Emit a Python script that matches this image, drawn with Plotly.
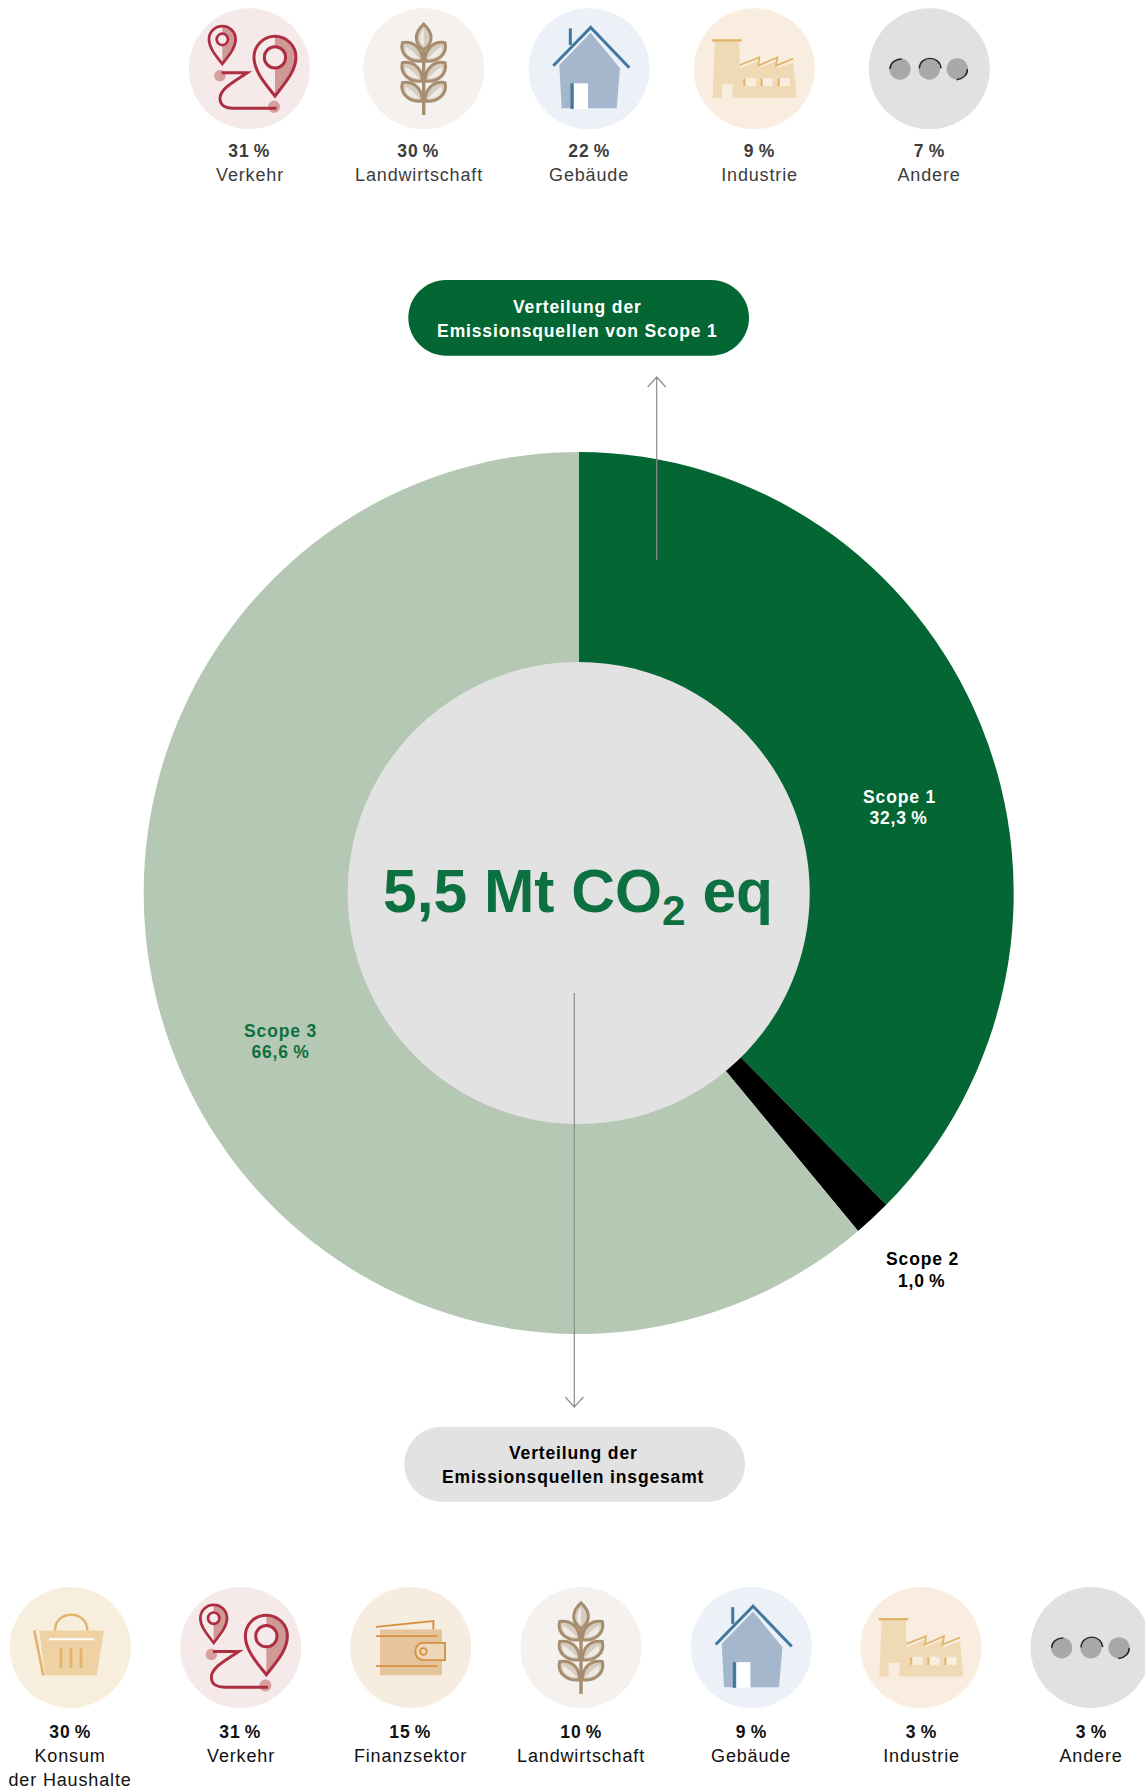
import re
import plotly.graph_objects as go

# ---------- data ----------
slice_names = ["Scope 1", "Scope 2", "Scope 3"]
# slice sizes as drawn in the picture (they differ from the printed labels)
slice_drawn_shares = [37.5, 1.4, 61.1]
slice_printed_labels = ["32,3\u2009%", "1,0\u2009%", "66,6\u2009%"]
slice_colors = ["#036633", "#000000", "#b5c8b4"]

top_labels = ["Verkehr", "Landwirtschaft", "Gebäude", "Industrie", "Andere"]
top_values = [31, 30, 22, 9, 7]
top_icons = ["route", "wheat", "house", "factory", "other"]

bottom_labels = ["Konsum<br>der Haushalte", "Verkehr", "Finanzsektor", "Landwirtschaft", "Gebäude", "Industrie", "Andere"]
bottom_values = [30, 31, 15, 10, 9, 3, 3]
bottom_icons = ["basket", "route", "wallet", "wheat", "house", "factory", "other"]

center_text = "5,5 Mt CO<sub>2</sub> eq"
pill_top_lines = ["Verteilung der", "Emissionsquellen von Scope 1"]
pill_bottom_lines = ["Verteilung der", "Emissionsquellen insgesamt"]

# ---------- layout constants ----------
W, H = 1145, 1789
FONT = "Liberation Sans, Arial, sans-serif"
GREEN, GREEN_TXT = "#036633", "#0d7040"
top_x = [249.3, 423.7, 589, 754.3, 929.3]
top_text_x = [249.5, 418.5, 589, 759, 929]
bottom_x = [70.3, 240.7, 410.7, 581, 751.4, 921, 1091]
ICON_R = 60.5
cx, cy, RX, RY, R_IN = 578.7, 893, 435, 441, 231

shapes, annos = [], []


def text(x, y, s, size=17.5, color="#111", bold=False):
    annos.append(dict(x=x, y=y, xref="x", yref="y", text=f"<b>{s}</b>" if bold else s,
                      showarrow=False, xanchor="center", yanchor="middle",
                      font=dict(family=FONT, size=size, color=color), align="center"))


def circ(x, y, r):
    k = 0.5523 * r
    return (f"M{x-r},{y} C{x-r},{y-k} {x-k},{y-r} {x},{y-r} C{x+k},{y-r} {x+r},{y-k} {x+r},{y} "
            f"C{x+r},{y+k} {x+k},{y+r} {x},{y+r} C{x-k},{y+r} {x-r},{y+k} {x-r},{y} Z")


def rect(x0, y0, x1, y1):
    return f"M{x0},{y0} L{x1},{y0} L{x1},{y1} L{x0},{y1} Z"


def move(d, ox, oy, px, py):
    i = [0]

    def rep(m):
        v = float(m.group())
        res = px + (v - ox) / 3 if i[0] % 2 == 0 else py + (v - oy) / 3
        i[0] += 1
        return f"{res:.2f}"
    return re.sub(r"-?\d+\.?\d*", rep, d)


def pin(x, y, r, tip, ring, lw):
    q = r / 63
    out = (f"M{x},{y+tip} C{x-25*q},{y+83*q} {x-r},{y+43*q} {x-r},{y} C{x-r},{y-35*q} {x-35*q},{y-r} {x},{y-r} "
           f"C{x+35*q},{y-r} {x+r},{y-35*q} {x+r},{y} C{x+r},{y+43*q} {x+25*q},{y+83*q} {x},{y+tip} Z")
    half = (f"M{x},{y+tip} C{x+25*q},{y+83*q} {x+r},{y+43*q} {x+r},{y} C{x+r},{y-35*q} {x+35*q},{y-r} {x},{y-r} Z")
    return [(half, "#cf9a96", None, 0), (out, None, "#ad2e40", lw), (circ(x, y, ring), "#f6e9e9", "#ad2e40", lw)]


def wheat_parts():
    c, parts = "#a68d6f", []
    for dy in (0, 60, 120):
        l = f"M697,{128+dy} C730,{122+dy} 757,{145+dy} 757,{183+dy} C722,{187+dy} 688,{165+dy} 697,{128+dy} Z"
        r = f"M825,{128+dy} C792,{122+dy} 765,{145+dy} 765,{183+dy} C800,{187+dy} 834,{165+dy} 825,{128+dy} Z"
        lh = f"M707,{140+dy} C725,{150+dy} 740,{165+dy} 748,{175+dy} C725,{176+dy} 700,{165+dy} 707,{140+dy} Z"
        rh = f"M815,{140+dy} C822,{165+dy} 797,{176+dy} 774,{175+dy} C782,{165+dy} 797,{150+dy} 815,{140+dy} Z"
        parts += [(l, "#d6ccc0", c, 3), (r, "#d6ccc0", c, 3), (lh, "#efeae5", None, 0), (rh, "#efeae5", None, 0)]
    parts += [("M761,72 C733,97 730,128 761,150 C792,128 789,97 761,72 Z", "#d6ccc0", c, 3),
              ("M761,86 C747,103 745,125 761,138 Z", "#efeae5", None, 0),
              ("M761,150 L761,345", None, c, 3.4)]
    return parts


ORANGE = "#e3b46c"
ICONS = {
    "route": dict(bg="#f6e9e9", o=(238, 206), parts=[
        (circ(150, 227, 17), "#d89f9c", None, 0), (circ(312, 320, 18), "#d89f9c", None, 0),
        *pin(157, 118, 40, 74, 17, 2.7), *pin(315, 172, 63, 116, 32, 3),
        ("M155,218 L232,218 C200,240 150,265 150,295 C150,318 170,325 190,325 L320,325", None, "#ad2e40", 3),
    ]),
    "wheat": dict(bg="#f5f1ee", o=(761, 206), parts=wheat_parts()),
    "house": dict(bg="#ecf0f7", o=(1257, 206), parts=[
        ("M1262,98 L1350,205 L1340,325 L1175,325 L1168,195 Z", "#a4b7cd", None, 0),
        ("M1150,197 L1262,82 L1378,203", None, "#41789f", 3),
        ("M1201,85 L1201,135", None, "#41789f", 3),
        (rect(1212, 250, 1254, 327), "#ffffff", None, 0),
        ("M1206,250 L1206,327", None, "#41789f", 3),
    ]),
    "factory": dict(bg="#f8edde", o=(253, 206), parts=[
        ("M135,122 L207,122 L210,205 L265,182 L265,205 L320,182 L320,205 L370,187 L380,293 L128,293 Z", "#f0d9b5", None, 0),
        ("M126,121 L215,121", None, ORANGE, 2.4),
        ("M210,195 L268,172 L265,197 L322,172 L318,197 L370,176", None, ORANGE, 1.8),
        (rect(228, 234, 258, 258), "#f8edde", None, 0), (rect(278, 234, 308, 258), "#f8edde", None, 0),
        (rect(330, 234, 360, 258), "#f8edde", None, 0), (rect(220, 236, 226, 258), ORANGE, None, 0),
        (rect(272, 236, 278, 258), ORANGE, None, 0), (rect(323, 236, 329, 258), ORANGE, None, 0),
        (rect(156, 252, 188, 296), "#f8edde", None, 0),
    ]),
    "other": dict(bg="#e1e1e1", o=(778, 206), parts=[
        (circ(690, 207, 32), "#a9a7a7", None, 0), (circ(778, 207, 32), "#a9a7a7", None, 0),
        (circ(862, 207, 32), "#a9a7a7", None, 0),
        ("M660,207 C660,190 675,178 695,177", None, "#222222", 1.4),
        ("M748,205 C750,165 810,165 813,205", None, "#222222", 1.4),
        ("M892,207 C894,222 882,236 860,239", None, "#222222", 1.4),
    ]),
    "basket": dict(bg="#f8eedd", o=(211, 236), parts=[
        ("M118,185 L312,185 L290,320 L135,320 Z", "#eed2a4", None, 0),
        ("M165,185 C165,122 262,122 262,185", None, ORANGE, 2.4),
        ("M103,185 L130,320", None, ORANGE, 2.6),
        ("M147,211 L282,211", None, "#ffffff", 2),
        ("M183,238 L183,298", None, ORANGE, 2.8), ("M213,238 L213,298", None, ORANGE, 2.8),
        ("M243,238 L243,298", None, ORANGE, 2.8),
    ]),
    "wallet": dict(bg="#f7ece0", o=(1232, 232), parts=[
        (rect(1140, 178, 1326, 315), "#e5c39b", None, 0),
        ("M1128,170 L1300,153 L1300,178", None, "#d4923f", 1.9),
        ("M1128,198 L1312,198", None, "#d4923f", 1.9), ("M1128,288 L1312,288", None, "#d4923f", 1.9),
        ("M1335,218 L1270,218 C1238,218 1238,270 1270,270 L1335,270 Z", "#edd7bb", "#d4923f", 1.9),
        (circ(1270, 244, 10), None, "#d4923f", 1.8),
    ]),
}


def draw_icon(name, px, py):
    ic = ICONS[name]
    shapes.append(dict(type="path", xref="x", yref="y", path=circ(px, py, ICON_R), fillcolor=ic["bg"], line_width=0))
    for d, fill, stroke, lw in ic["parts"]:
        shapes.append(dict(type="path", xref="x", yref="y", path=move(d, *ic["o"], px, py),
                           fillcolor=fill or "rgba(0,0,0,0)",
                           line=dict(color=stroke or "rgba(0,0,0,0)", width=lw)))


def pill(x0, y0, x1, y1, color):
    r = (y1 - y0) / 2
    k = 0.5523 * r
    d = (f"M{x0+r},{y0} L{x1-r},{y0} C{x1-r+k},{y0} {x1},{y0+r-k} {x1},{y0+r} C{x1},{y0+r+k} {x1-r+k},{y1} {x1-r},{y1} "
         f"L{x0+r},{y1} C{x0+r-k},{y1} {x0},{y0+r+k} {x0},{y0+r} C{x0},{y0+r-k} {x0+r-k},{y0} {x0+r},{y0} Z")
    shapes.append(dict(type="path", xref="x", yref="y", path=d, fillcolor=color, line_width=0))


def arrow(x, y0, y1):
    s = 1 if y1 > y0 else -1
    d = f"M{x},{y0} L{x},{y1} M{x-9},{y1-s*10} L{x},{y1} L{x+9},{y1-s*10}"
    shapes.append(dict(type="path", xref="x", yref="y", path=d, line=dict(color="#8c8c8c", width=1.2)))


# ---------- build ----------
for x, tx, lab, val, ic in zip(top_x, top_text_x, top_labels, top_values, top_icons):
    draw_icon(ic, x, 68.7)
    text(tx, 150.5, f"{val}\u2009%", color="#3c3c3c", bold=True)
    text(tx, 174.5, lab, size=18, color="#3c3c3c")

for x, lab, val, ic in zip(bottom_x, bottom_labels, bottom_values, bottom_icons):
    draw_icon(ic, x, 1647.5)
    text(x, 1731.5, f"{val}\u2009%", bold=True)
    for k, part in enumerate(lab.split("<br>")):
        text(x, 1755.7 + 24 * k, part, size=18)

# the disc sits above the pie: the reference's ring is a little taller than wide, its hole round
shapes.append(dict(type="path", xref="x", yref="y", path=circ(cx, cy, R_IN), fillcolor="#e2e2e2", line_width=0))

pill(408.3, 280, 749, 355.7, GREEN)
pill(404.3, 1426.7, 745, 1501.7, "#e2e2e2")
text(577.2, 306.7, pill_top_lines[0], color="#ffffff", bold=True)
text(577.2, 331, pill_top_lines[1], color="#ffffff", bold=True)
text(573.2, 1453, pill_bottom_lines[0], color="#000000", bold=True)
text(573.2, 1477, pill_bottom_lines[1], color="#000000", bold=True)
arrow(656.7, 560, 377)
arrow(574.3, 993, 1407)

label_pos = [(899, 796.5, 818, "#ffffff"), (922, 1259, 1281, "#000000"), (280.5, 1031, 1052, GREEN_TXT)]
for name, printed, (lx, y1, y2, col) in zip(slice_names, slice_printed_labels, label_pos):
    text(lx, y1, name, color=col, bold=True)
    text(lx, y2, printed, color=col, bold=True)

text(cx - 1, 895, center_text, size=60.5, color=GREEN_TXT, bold=True)

fig = go.Figure()
fig.add_trace(go.Scatter(x=[0, W], y=[0, H], mode="markers", marker=dict(opacity=0), hoverinfo="skip", showlegend=False))
fig.add_trace(go.Pie(labels=slice_names, values=slice_drawn_shares, sort=False, direction="clockwise", rotation=0,
                     hole=0.5, textinfo="none", hoverinfo="label", showlegend=False,
                     marker=dict(colors=slice_colors, line=dict(width=0)),
                     domain=dict(x=[(cx - RX) / W, (cx + RX) / W],
                                 y=[1 - (cy + RX) / H, 1 - (cy - RX) / H])))
fig.update_layout(width=W, height=H, margin=dict(l=0, r=0, t=0, b=0), paper_bgcolor="white", plot_bgcolor="white",
                  showlegend=False, shapes=shapes, annotations=annos,
                  xaxis=dict(range=[0, W], visible=False, fixedrange=True),
                  yaxis=dict(range=[H, 0], visible=False, fixedrange=True))
post = f"""
document.body.style.margin='0';document.body.style.overflow='hidden';
var pl=document.querySelector('.pielayer');
if(pl)pl.setAttribute('transform','translate(0,{cy}) scale(1,{RY/RX:.5f}) translate(0,{-cy})');
document.querySelectorAll('.annotation-text').forEach(function(t){{
  if(parseFloat(t.style.fontSize)<30)t.style.letterSpacing='0.85px';
}});
"""
fig.write_html("out.html", config=dict(displayModeBar=False), post_script=post)
